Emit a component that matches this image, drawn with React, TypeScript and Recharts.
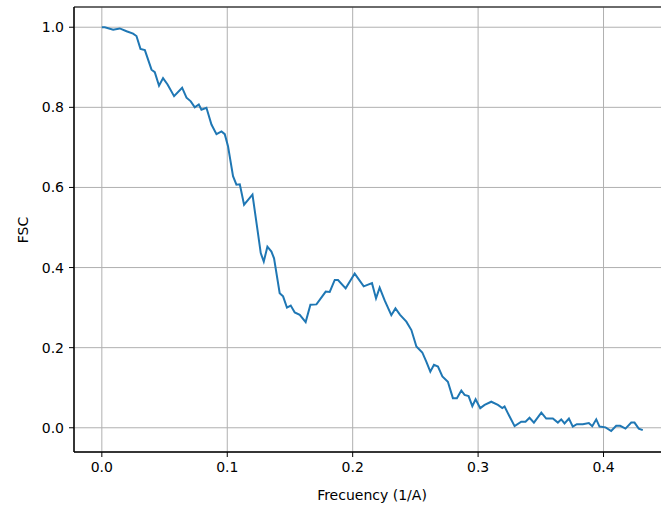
import React from 'react';
import {
  LineChart,
  Line,
  XAxis,
  YAxis,
  CartesianGrid,
  ReferenceArea,
} from 'recharts';

const frequency = [
  0, 0.0024, 0.009, 0.0143, 0.0197, 0.0249, 0.0276, 0.0308, 0.0343, 0.0396,
  0.0422, 0.0456, 0.0488, 0.0524, 0.0576, 0.064, 0.0675, 0.0709, 0.0741,
  0.0773, 0.0794, 0.0834, 0.0874, 0.0914, 0.0954, 0.098, 0.1006, 0.1046,
  0.1073, 0.11, 0.1134, 0.1166, 0.1201, 0.1241, 0.1267, 0.1291, 0.132, 0.1352,
  0.1373, 0.1418, 0.1445, 0.1476, 0.1506, 0.1538, 0.1578, 0.1625, 0.1663,
  0.1711, 0.1785, 0.1817, 0.1857, 0.1883, 0.1944, 0.2016, 0.2088, 0.2154,
  0.2186, 0.2215, 0.2255, 0.2308, 0.2341, 0.2378, 0.2428, 0.2468, 0.2508,
  0.2555, 0.2587, 0.2619, 0.2648, 0.268, 0.2715, 0.2759, 0.2799, 0.2831,
  0.2866, 0.2892, 0.2924, 0.2954, 0.298, 0.3017, 0.3052, 0.3105, 0.3158,
  0.3193, 0.3211, 0.3251, 0.3291, 0.3344, 0.3378, 0.341, 0.3445, 0.3504,
  0.3543, 0.3596, 0.3636, 0.3663, 0.3689, 0.3724, 0.3755, 0.3787, 0.3835,
  0.3883, 0.391, 0.3942, 0.3968, 0.4016, 0.4061, 0.4101, 0.4133, 0.4175,
  0.4221, 0.4247, 0.4281, 0.4313,
];

const fsc = [
  1.0, 1.0, 0.994, 0.997, 0.99, 0.984, 0.978, 0.946, 0.943, 0.894, 0.888,
  0.854, 0.873, 0.857, 0.828, 0.849, 0.824, 0.815, 0.8, 0.807, 0.794, 0.799,
  0.757, 0.733, 0.74, 0.733, 0.703, 0.628, 0.607, 0.608, 0.557, 0.569, 0.582,
  0.494, 0.436, 0.415, 0.452, 0.44, 0.423, 0.336, 0.328, 0.3, 0.305, 0.288,
  0.282, 0.264, 0.307, 0.308, 0.34, 0.339, 0.369, 0.369, 0.348, 0.385, 0.353,
  0.361, 0.323, 0.35, 0.318, 0.281, 0.298, 0.282, 0.265, 0.244, 0.203, 0.188,
  0.165, 0.14, 0.157, 0.153, 0.128, 0.115, 0.074, 0.074, 0.093, 0.082, 0.079,
  0.054, 0.071, 0.049, 0.057, 0.065, 0.057, 0.049, 0.053, 0.028, 0.004, 0.015,
  0.015, 0.025, 0.013, 0.038, 0.023, 0.023, 0.013, 0.021, 0.011, 0.023, 0.003,
  0.009, 0.009, 0.012, 0.004, 0.021, 0.003, 0.001, -0.008, 0.005, 0.005,
  -0.002, 0.013, 0.013, -0.002, -0.006,
];

const xTicks = [0, 0.1, 0.2, 0.3, 0.4];
const yTicks = [0, 0.2, 0.4, 0.6, 0.8, 1.0];

const X_DOMAIN: [number, number] = [-0.0222, 0.453];
const Y_DOMAIN: [number, number] = [-0.0605, 1.0505];

const FONT = '"DejaVu Sans", sans-serif';

const data = frequency.map((f, i) => ({ frequency: f, fsc: fsc[i] }));

export default function App() {
  return (
    <div
      style={{
        position: 'fixed',
        left: 0,
        top: 0,
        width: 661,
        height: 506,
        overflow: 'hidden',
        background: '#fff',
      }}
    >
      <LineChart
        width={700}
        height={506}
        data={data}
        margin={{ top: 7, right: 30, left: 0, bottom: 0 }}
      >
        <CartesianGrid stroke="#b0b0b0" strokeWidth={1} />
        <XAxis
          type="number"
          dataKey="frequency"
          domain={X_DOMAIN}
          ticks={xTicks}
          allowDataOverflow
          tickFormatter={(v: number) => v.toFixed(1)}
          height={54}
          tickSize={5}
          tickMargin={5}
          stroke="#000"
          tick={{ fill: '#000', fontSize: 14, fontFamily: FONT }}
          label={{
            value: 'Frecuency (1/A)',
            position: 'insideBottom',
            offset: 6,
            fill: '#000',
            fontSize: 14,
            fontFamily: FONT,
          }}
        />
        <YAxis
          type="number"
          domain={Y_DOMAIN}
          ticks={yTicks}
          allowDataOverflow
          tickFormatter={(v: number) => v.toFixed(1)}
          width={74}
          tickSize={5}
          tickMargin={5}
          stroke="#000"
          tick={{ fill: '#000', fontSize: 14, fontFamily: FONT }}
          label={{
            content: () => (
              <text
                x={23}
                y={230}
                transform="rotate(-90 23 230)"
                textAnchor="middle"
                dominantBaseline="central"
                fill="#000"
                fontSize={14}
                fontFamily={FONT}
              >
                FSC
              </text>
            ),
          }}
        />
        <ReferenceArea
          x1={X_DOMAIN[0]}
          x2={X_DOMAIN[1]}
          y1={Y_DOMAIN[0]}
          y2={Y_DOMAIN[1]}
          fill="none"
          stroke="#000"
          strokeWidth={1}
          ifOverflow="visible"
        />
        <Line
          type="linear"
          dataKey="fsc"
          stroke="#1f77b4"
          strokeWidth={2}
          dot={false}
          activeDot={false}
          isAnimationActive={false}
        />
      </LineChart>
    </div>
  );
}
